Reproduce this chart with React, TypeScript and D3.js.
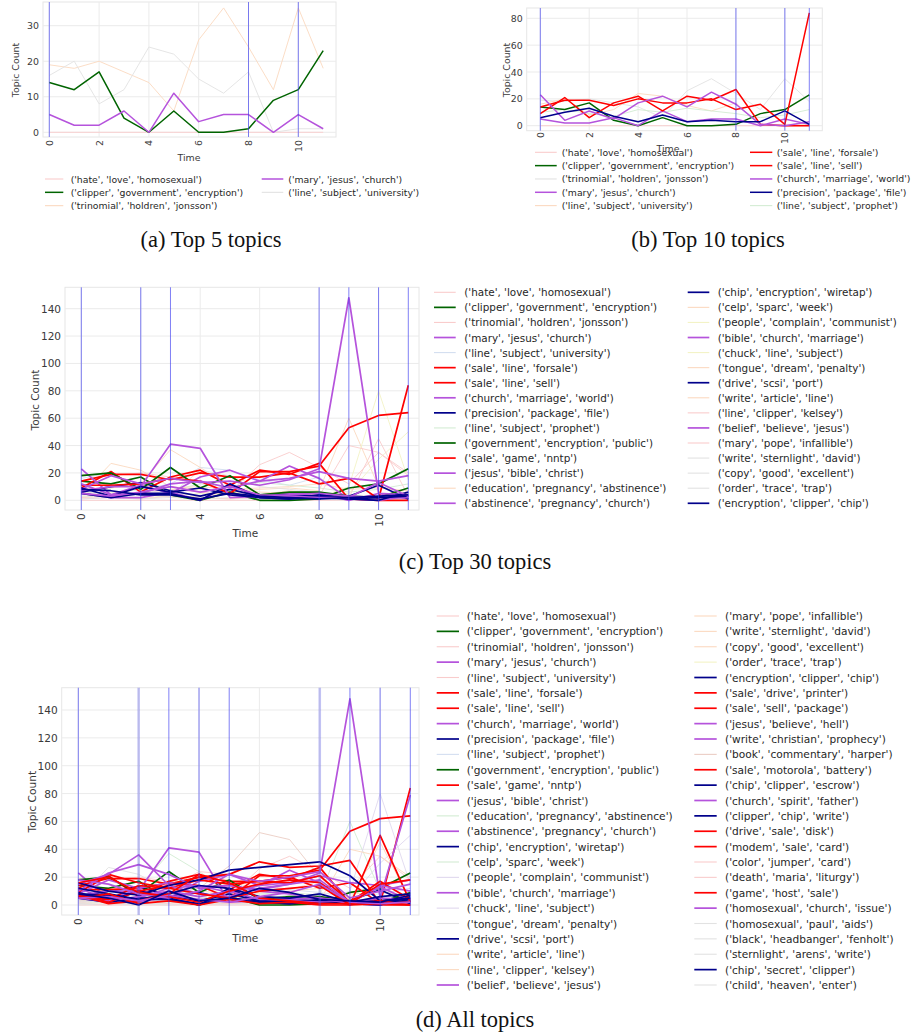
import React from "react";
import * as d3 from "d3";

const TIME = [0, 1, 2, 3, 4, 5, 6, 7, 8, 9, 10, 11];
const X_TICKS = [0, 2, 4, 6, 8, 10];

const TOPICS = [
  "('hate', 'love', 'homosexual')",
  "('clipper', 'government', 'encryption')",
  "('trinomial', 'holdren', 'jonsson')",
  "('mary', 'jesus', 'church')",
  "('line', 'subject', 'university')",
  "('sale', 'line', 'forsale')",
  "('sale', 'line', 'sell')",
  "('church', 'marriage', 'world')",
  "('precision', 'package', 'file')",
  "('line', 'subject', 'prophet')",
  "('government', 'encryption', 'public')",
  "('sale', 'game', 'nntp')",
  "('jesus', 'bible', 'christ')",
  "('education', 'pregnancy', 'abstinence')",
  "('abstinence', 'pregnancy', 'church')",
  "('chip', 'encryption', 'wiretap')",
  "('celp', 'sparc', 'week')",
  "('people', 'complain', 'communist')",
  "('bible', 'church', 'marriage')",
  "('chuck', 'line', 'subject')",
  "('tongue', 'dream', 'penalty')",
  "('drive', 'scsi', 'port')",
  "('write', 'article', 'line')",
  "('line', 'clipper', 'kelsey')",
  "('belief', 'believe', 'jesus')",
  "('mary', 'pope', 'infallible')",
  "('write', 'sternlight', 'david')",
  "('copy', 'good', 'excellent')",
  "('order', 'trace', 'trap')",
  "('encryption', 'clipper', 'chip')",
  "('sale', 'drive', 'printer')",
  "('sale', 'sell', 'package')",
  "('jesus', 'believe', 'hell')",
  "('write', 'christian', 'prophecy')",
  "('book', 'commentary', 'harper')",
  "('sale', 'motorola', 'battery')",
  "('chip', 'clipper', 'escrow')",
  "('church', 'spirit', 'father')",
  "('clipper', 'chip', 'write')",
  "('drive', 'sale', 'disk')",
  "('modem', 'sale', 'card')",
  "('color', 'jumper', 'card')",
  "('death', 'maria', 'liturgy')",
  "('game', 'host', 'sale')",
  "('homosexual', 'church', 'issue')",
  "('homosexual', 'paul', 'aids')",
  "('black', 'headbanger', 'fenholt')",
  "('sternlight', 'arens', 'write')",
  "('chip', 'secret', 'clipper')",
  "('child', 'heaven', 'enter')",
];

// topic group: g = encryption, r = sale, p = religion, b = chip, f = other (faint)
const GROUPS = [
  "f", "g", "f", "p", "f", "r", "r", "p", "b", "f",
  "g", "r", "p", "f", "p", "b", "f", "f", "p", "f",
  "f", "b", "f", "f", "p", "f", "f", "f", "f", "b",
  "r", "r", "p", "p", "f", "r", "b", "p", "b", "r",
  "r", "f", "f", "r", "p", "f", "f", "f", "b", "f",
];

const S01 = [0, 0, 0, 0, 0, 0, 0, 0, 0, 0, 0, 0];
const S02 = [14, 12, 17, 4, 0, 6, 0, 0, 1, 9, 12, 23];
const S03 = [19, 18, 20, 17, 14, 6, 26, 35, 24, 12, 35, 18];
const S04 = [5, 2, 2, 6, 0, 11, 3, 5, 5, 0, 5, 1];
const S05 = [16, 20, 8, 12, 24, 22, 15, 11, 17, 0, 1, 1];
const S06 = [14, 19, 19, 15, 20, 17, 17, 20, 12, 16, 1, 84];
const S07 = [9, 21, 6, 17, 22, 11, 22, 19, 27, 1, 0, 0];
const S08 = [23, 4, 11, 5, 17, 22, 14, 25, 16, 1, 0, 3];
const S09 = [6, 10, 13, 7, 3, 8, 3, 4, 3, 3, 11, 1];
const S10 = [10, 12, 9, 7, 12, 10, 13, 11, 9, 6, 8, 12];
const S11 = [18, 20, 8, 24, 9, 18, 4, 6, 6, 3, 2, 9];
const S12 = [11, 11, 12, 16, 14, 5, 21, 21, 25, 53, 62, 64];
const S13 = [8, 18, 12, 16, 13, 14, 11, 15, 23, 148, 5, 4];
const S14 = [8, 9, 12, 37, 24, 10, 6, 5, 4, 3, 2, 2];
const S15 = [7, 10, 10, 41, 38, 2, 3, 4, 5, 3, 2, 2];
const S16 = [9, 3, 10, 6, 9, 4, 2, 1, 2, 1, 2, 3];
const S17 = [3, 4, 5, 2, 3, 6, 8, 9, 7, 60, 10, 5];
const S18 = [2, 3, 1, 4, 2, 1, 3, 5, 2, 10, 80, 15];
const S19 = [12, 4, 5, 12, 14, 9, 14, 16, 21, 16, 14, 18];
const S20 = [5, 6, 4, 3, 5, 4, 2, 3, 4, 5, 30, 50];
const S21 = [4, 27, 22, 10, 8, 6, 4, 7, 5, 2, 3, 1];
const S22 = [5, 2, 5, 5, 0, 12, 2, 1, 4, 1, 0, 6];
const S23 = [10, 12, 11, 9, 10, 8, 9, 10, 12, 8, 9, 7];
const S24 = [2, 3, 5, 8, 6, 4, 3, 2, 3, 40, 35, 20];
const S25 = [5, 3, 6, 10, 6, 10, 4, 3, 2, 2, 13, 3];
const S26 = [1, 2, 1, 3, 2, 1, 2, 1, 1, 2, 45, 3];
const S27 = [6, 5, 8, 4, 22, 18, 10, 8, 6, 4, 3, 2];
const S28 = [3, 2, 4, 3, 2, 5, 4, 3, 2, 1, 2, 1];
const S29 = [1, 2, 1, 2, 1, 2, 1, 2, 1, 0, 1, 0];
const S30 = [8, 7, 4, 4, 1, 5, 3, 2, 1, 2, 3, 4];
const S31 = [8, 2, 10, 14, 20, 22, 31, 27, 28, 32, 1, 2];
const S32 = [12, 22, 16, 12, 18, 15, 17, 16, 21, 2, 17, 4];
const S33 = [15, 22, 36, 14, 8, 6, 12, 15, 18, 2, 5, 79];
const S34 = [10, 23, 29, 22, 12, 14, 10, 8, 5, 1, 14, 10];
const S35 = [3, 4, 6, 8, 12, 28, 52, 47, 20, 4, 2, 1];
const S36 = [6, 4, 14, 12, 8, 5, 10, 12, 14, 0, 50, 2];
const S37 = [16, 10, 7, 14, 18, 25, 27, 29, 31, 21, 3, 5];
const S38 = [18, 15, 8, 5, 10, 22, 17, 20, 24, 5, 10, 15];
const S39 = [12, 8, 4, 8, 14, 12, 6, 5, 8, 2, 6, 8];
const S40 = [16, 20, 9, 6, 2, 10, 15, 18, 16, 1, 15, 18];
const S41 = [7, 1, 3, 8, 22, 16, 5, 3, 1, 1, 3, 0];
const S42 = [2, 3, 2, 4, 3, 2, 3, 2, 4, 3, 2, 1];
const S43 = [1, 0, 2, 1, 0, 1, 2, 1, 0, 1, 2, 1];
const S44 = [5, 8, 1, 3, 0, 4, 1, 2, 0, 0, 1, 0];
const S45 = [5, 6, 3, 7, 4, 2, 6, 9, 15, 2, 1, 2];
const S46 = [3, 2, 4, 3, 5, 4, 3, 4, 3, 2, 4, 3];
const S47 = [0, 1, 0, 2, 1, 0, 1, 0, 1, 0, 1, 0];
const S48 = [2, 3, 6, 4, 5, 10, 8, 5, 4, 3, 2, 1];
const S49 = [8, 5, 0, 10, 3, 5, 12, 9, 4, 3, 2, 7];
const S50 = [1, 2, 1, 0, 1, 2, 1, 0, 1, 2, 1, 0];

const SERIES = [
  S01, S02, S03, S04, S05, S06, S07, S08, S09, S10,
  S11, S12, S13, S14, S15, S16, S17, S18, S19, S20,
  S21, S22, S23, S24, S25, S26, S27, S28, S29, S30,
  S31, S32, S33, S34, S35, S36, S37, S38, S39, S40,
  S41, S42, S43, S44, S45, S46, S47, S48, S49, S50,
];

const Y_TICKS_A = [0, 10, 20, 30];
const Y_TICKS_B = [0, 20, 40, 60, 80];
const Y_TICKS_CD = [0, 20, 40, 60, 80, 100, 120, 140];
const VLINES_A = [0, 8, 10];
const VLINES_B = [0, 8, 10, 11];
const VLINES_C = [0, 2, 3, 8, 9, 10, 11];
const VLINES_D = [0, 2, 3, 4, 5, 8, 9, 10, 11];

const GROUP_COLOR: Record<string, string> = {
  g: "#006400",
  r: "#ff0000",
  p: "#b553dc",
  b: "#00008b",
};

const PINK = "#f9cccc";
const PEACH = "#fbd9c0";
const GRAY = "#e2e2e2";
const GREEN = "#d3ecd3";
const BLUE = "#d3def0";
const YELLOW = "#f3f3c6";
const LAV = "#e0d8ee";
const ROSY = "#ebcdc4";

const FAINT_A = [PINK, PEACH, GRAY];
const FAINT_B = [PINK, GRAY, PEACH, GREEN];
const FAINT_C = [PINK, PINK, BLUE, GREEN, PEACH, PEACH, YELLOW, YELLOW, PEACH, PEACH, PINK, PINK, GRAY, GRAY, GRAY];
const FAINT_D = [PINK, PINK, PINK, BLUE, GREEN, GREEN, LAV, LAV, GRAY, PEACH, PEACH, PEACH, PEACH, PEACH, YELLOW, ROSY, PINK, PINK, GRAY, GRAY, GRAY, GRAY];

const SANS = "DejaVu Sans, sans-serif";
const SERIF = "Liberation Serif, serif";

type Cfg = {
  n: number;
  frame: [number, number, number, number];
  x0: number;
  x11: number;
  yZero: number;
  yRefVal: number;
  yRefPx: number;
  yTicks: number[];
  vlines: number[];
  wide: number[];
  tickFont: number;
  labelFont: number;
  legendFont: number;
  ylab: [number, number];
  xlab: [number, number];
  xtickTop: number;
  rows: number;
  c1: [number, number, number];
  c2: [number, number, number];
  row0: number;
  rowStep: number;
  faint: string[];
  caption: string;
  cap: [number, number];
  lw: number;
};

const CFGS: Cfg[] = [
  {
    n: 5, frame: [43, 2, 336, 137], x0: 49.3, x11: 323.2, yZero: 132.3, yRefVal: 30, yRefPx: 25.7,
    yTicks: Y_TICKS_A, vlines: VLINES_A, wide: [], tickFont: 9.4, labelFont: 9.4, legendFont: 9.3,
    ylab: [15, 70], xlab: [189, 157], xtickTop: 140, rows: 3,
    c1: [45, 63.3, 70.7], c2: [261.7, 283.3, 288.3], row0: 179, rowStep: 13.33,
    faint: FAINT_A, caption: "(a) Top 5 topics", cap: [211, 247], lw: 1.5,
  },
  {
    n: 10, frame: [526.7, 8, 822.3, 130.7], x0: 540.3, x11: 809.3, yZero: 125.7, yRefVal: 80, yRefPx: 18.3,
    yTicks: Y_TICKS_B, vlines: VLINES_B, wide: [], tickFont: 9.4, labelFont: 9.4, legendFont: 9.3,
    ylab: [506.3, 70], xlab: [668, 148], xtickTop: 132, rows: 5,
    c1: [535, 556.7, 561.7], c2: [750, 772.3, 776.7], row0: 152.3, rowStep: 13.33,
    faint: FAINT_B, caption: "(b) Top 10 topics", cap: [708, 247], lw: 1.5,
  },
  {
    n: 30, frame: [65, 287.3, 419, 510], x0: 81.3, x11: 408.3, yZero: 500.3, yRefVal: 140, yRefPx: 308.7,
    yTicks: Y_TICKS_CD, vlines: VLINES_C, wide: [], tickFont: 10.5, labelFont: 10.5, legendFont: 10.4,
    ylab: [35, 400], xlab: [245.3, 532.7], xtickTop: 513.3, rows: 15,
    c1: [434, 455.7, 464.3], c2: [687.7, 709.3, 717.7], row0: 292.3, rowStep: 15.07,
    faint: FAINT_C, caption: "(c) Top 30 topics", cap: [475, 569.3], lw: 1.7,
  },
  {
    n: 50, frame: [61.7, 687.7, 419, 915], x0: 78.3, x11: 410.3, yZero: 905, yRefVal: 140, yRefPx: 710,
    yTicks: Y_TICKS_CD, vlines: VLINES_D, wide: [2, 8], tickFont: 10.6, labelFont: 10.6, legendFont: 10.6,
    ylab: [31.7, 801.7], xlab: [245.3, 937.7], xtickTop: 918.3, rows: 25,
    c1: [436.7, 459, 466.7], c2: [694.3, 716.7, 725], row0: 616, rowStep: 15.375,
    faint: FAINT_D, caption: "(d) All topics", cap: [475, 1027], lw: 1.7,
  },
];

function Panel({ cfg }: { cfg: Cfg }) {
  const x = d3.scaleLinear().domain([0, 11]).range([cfg.x0, cfg.x11]);
  const y = d3.scaleLinear().domain([0, cfg.yRefVal]).range([cfg.yZero, cfg.yRefPx]);
  const line = d3
    .line<number>()
    .x((_, i) => x(TIME[i]))
    .y((v) => y(v));
  const [fx0, fy0, fx1, fy1] = cfg.frame;
  const idx = d3.range(cfg.n);
  let fi = 0;
  const colors = idx.map((i) => {
    const g = GROUPS[i];
    if (g === "f") return { c: cfg.faint[fi++] || GRAY, faint: true };
    return { c: GROUP_COLOR[g], faint: false };
  });
  return (
    <g>
      <rect x={fx0} y={fy0} width={fx1 - fx0} height={fy1 - fy0} fill="#fff" stroke="#e6e6e6" strokeWidth={1} />
      {cfg.yTicks.map((t) => (
        <line key={"gy" + t} x1={fx0} x2={fx1} y1={y(t)} y2={y(t)} stroke="#ebebeb" strokeWidth={1} />
      ))}
      {X_TICKS.map((t) => (
        <line key={"gx" + t} x1={x(t)} x2={x(t)} y1={fy0} y2={fy1} stroke="#ebebeb" strokeWidth={1} />
      ))}
      {cfg.yTicks.map((t) => (
        <text key={"ty" + t} x={fx0 - 4} y={y(t)} textAnchor="end" dominantBaseline="central"
          fontFamily={SANS} fontSize={cfg.tickFont} fill="#3a3a3a">{t}</text>
      ))}
      {X_TICKS.map((t) => (
        <text key={"tx" + t} transform={`translate(${x(t)},${cfg.xtickTop}) rotate(-90)`} textAnchor="end"
          dominantBaseline="central" fontFamily={SANS} fontSize={cfg.tickFont} fill="#3a3a3a">{t}</text>
      ))}
      <text transform={`translate(${cfg.ylab[0]},${cfg.ylab[1]}) rotate(-90)`} textAnchor="middle"
        dominantBaseline="central" fontFamily={SANS} fontSize={cfg.labelFont} fill="#3a3a3a">Topic Count</text>
      <text x={cfg.xlab[0]} y={cfg.xlab[1]} textAnchor="middle" dominantBaseline="central"
        fontFamily={SANS} fontSize={cfg.labelFont} fill="#3a3a3a">Time</text>
      {idx.filter((i) => colors[i].faint).map((i) => (
        <path key={"f" + i} d={line(SERIES[i]) || ""} fill="none" stroke={colors[i].c} strokeWidth={1} strokeOpacity={0.9} />
      ))}
      {idx.filter((i) => !colors[i].faint).map((i) => (
        <path key={"s" + i} d={line(SERIES[i]) || ""} fill="none" stroke={colors[i].c} strokeWidth={cfg.lw}
          strokeLinejoin="round" />
      ))}
      {cfg.vlines.map((t) => {
        const w = cfg.wide.includes(t);
        return (
          <line key={"v" + t} x1={x(t)} x2={x(t)} y1={fy0} y2={fy1}
            stroke={w ? "rgba(90,90,230,0.35)" : "rgba(60,60,240,0.65)"} strokeWidth={w ? 2.6 : 1} />
        );
      })}
      {idx.map((i) => {
        const col = Math.floor(i / cfg.rows);
        const row = i % cfg.rows;
        const c = col === 0 ? cfg.c1 : cfg.c2;
        const yy = cfg.row0 + row * cfg.rowStep;
        return (
          <g key={"l" + i}>
            <line x1={c[0]} x2={c[1]} y1={yy} y2={yy} stroke={colors[i].c}
              strokeWidth={colors[i].faint ? 1.1 : cfg.lw} />
            <text x={c[2]} y={yy} dominantBaseline="central" fontFamily={SANS} fontSize={cfg.legendFont}
              fill="#262626">{TOPICS[i]}</text>
          </g>
        );
      })}
      <text x={cfg.cap[0]} y={cfg.cap[1]} textAnchor="middle" fontFamily={SERIF} fontSize={22.5}
        fill="#111">{cfg.caption}</text>
    </g>
  );
}

export default function App() {
  return (
    <svg width={912} height={1036} style={{ position: "absolute", left: 0, top: 0, background: "#fff" }}>
      <rect x={0} y={0} width={912} height={1036} fill="#fff" />
      {CFGS.map((c, i) => (
        <Panel key={i} cfg={c} />
      ))}
    </svg>
  );
}
